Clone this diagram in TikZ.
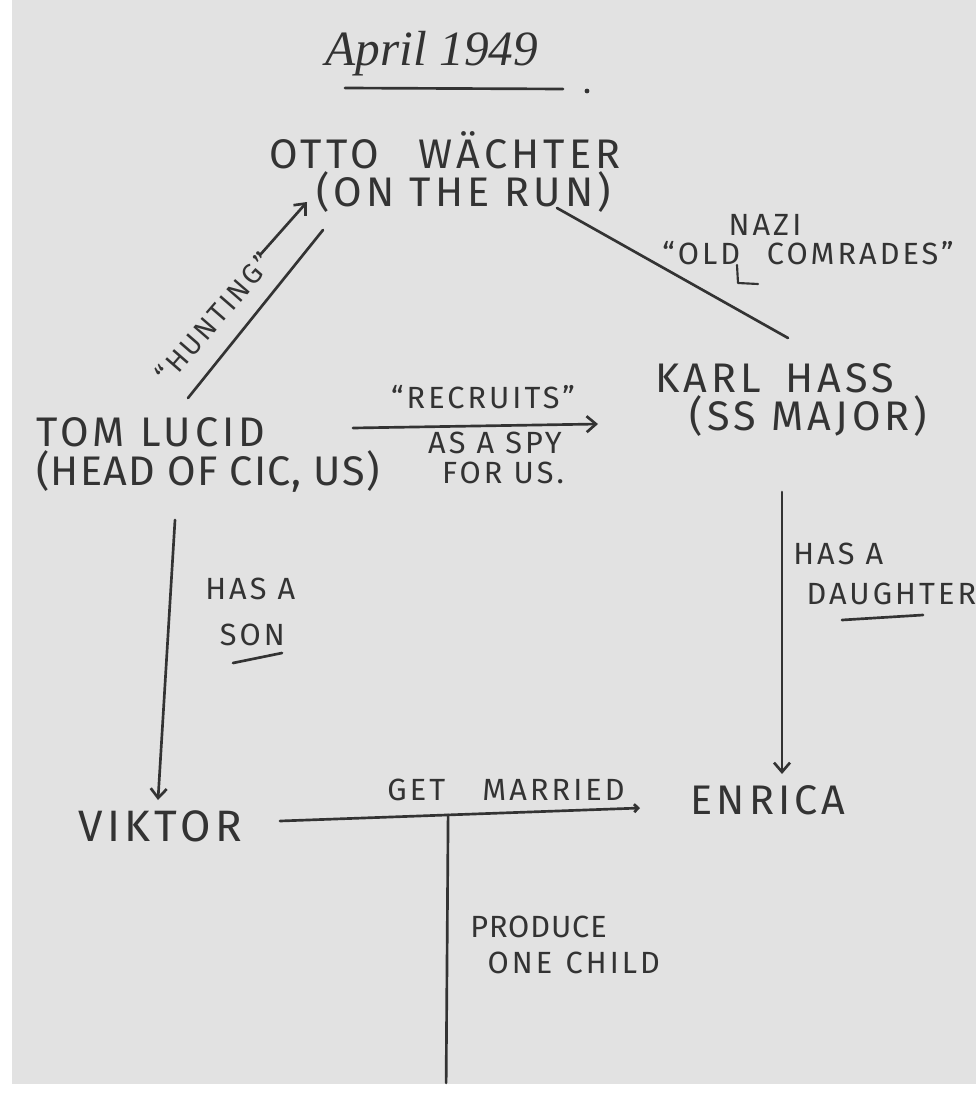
\documentclass[tikz,border=0pt]{standalone}
\usepackage{fontspec}
\setmainfont{Fira Sans}
\newfontfamily\handfont[LetterSpace=10]{Fira Sans}
\newfontfamily\tightfont[LetterSpace=3]{Fira Sans}
\newfontfamily\datefont{Liberation Serif}
\usetikzlibrary{calc,arrows.meta}
\definecolor{paper}{HTML}{E2E2E2}
\definecolor{ink}{HTML}{333333}
\tikzset{
	pen/.style={draw=ink, line width=2pt, line cap=round, line join=round},
	penarrow/.style={pen, -{Straight Barb[length=7pt,width=12pt]}},
	bigtext/.style={text=ink, inner sep=0pt, font=\handfont\fontsize{31}{29}\selectfont},
	smalltext/.style={text=ink, inner sep=0pt, font=\handfont\fontsize{23}{23}\selectfont}
}

\begin{document}
\begin{tikzpicture}[x=0.75pt, y=-0.75pt]
		%%%%% START %%%%%
		\useasboundingbox (0,0) rectangle (976,1095);
		\fill[white] (0,0) rectangle (976,1095);
		\fill[paper] (12,0) rectangle (976,1084);
		
		\node[text=ink, inner sep=0pt, font=\datefont\itshape\fontsize{37}{44}\selectfont] (date) at (432,54) {April 1949};
		\draw[pen] ($(date.center)+(-87,34)$) -- ++(218,1);
		\fill[ink] ($(date.center)+(155,37)$) circle (2.4);
		
		\node[bigtext, align=center] (otto) at (445,172) {OTTO\hspace{30pt}WÄCHTER\\\hspace*{28pt}(ON THE RUN)};
		\node[bigtext, align=left, anchor=west] (tom) at (36,455) {TOM LUCID\\{\tightfont(HEAD OF CIC, US)}};
		\node[bigtext, align=left, anchor=west] (karl) at (655,400) {KARL\hspace{18pt}HASS\\\hspace*{26pt}(SS MAJOR)};
		\node[bigtext, font=\handfont\fontsize{33}{33}\selectfont] (viktor) at (160,826) {VIKTOR};
		\node[bigtext] (enrica) at (768,800) {ENRICA};
		
		% labels
		\node[smalltext, rotate=49, font=\handfont\fontsize{21}{21}\selectfont] (hunt) at (214,318) {“HUNTING”};
		\node[smalltext] (nazi) at (765,225) {NAZI};
		\node[smalltext] (comr) at (808,253) {“OLD\hspace{20pt}COMRADES”};
		\node[smalltext] (recr) at (483,397) {“RECRUITS”};
		\node[smalltext, align=center] (spy) at (495,458) {AS A SPY\\\hspace*{12pt}FOR US.};
		\node[smalltext, align=left, anchor=west] (son) at (205,612) {HAS A\\[11pt]\hspace*{11pt}SON};
		\node[smalltext, align=left, anchor=west] (dau) at (793,574) {HAS A\\[7pt]\hspace*{10pt}DAUGHTER};
		\node[smalltext] (wedlbl) at (506,790) {GET\hspace{28pt}MARRIED};
		\node[smalltext, align=left, anchor=west] (kid) at (470,945) {{\tightfont PRODUCE}\\[4pt]\hspace*{13pt}ONE\hspace{10pt}CHILD};
		
		% connectors
		\draw[pen] ([shift={(152,-57)}]tom.west) -- ([shift={(-122,58)}]otto.center);
		\draw[penarrow] ([shift={(46,-63)}]hunt.center) -- ([shift={(93,-116)}]hunt.center);
		\draw[pen] ([shift={(112,36)}]otto.center) -- ([shift={(133,-62)}]karl.west);
		\draw[penarrow] ([shift={(317,-27)}]tom.west) -- ([shift={(-57,24)}]karl.west);
		\draw[penarrow] ([shift={(127,92)}]karl.west) -- ([shift={(14,-26)}]enrica.center);
		\draw[penarrow] ([shift={(139,65)}]tom.west) -- ([shift={(-2,-26)}]viktor.center);
		\draw[pen, -{Straight Barb[length=3pt,width=6pt]}] ([shift={(120,-5)}]viktor.center) -- coordinate[pos=0.467] (wed) ([shift={(-128,8)}]enrica.center);
		\draw[pen] (wed) -- ++(-2,268) coordinate (child);
		
		% marks
		\draw[pen, line width=1.6pt] ([shift={(-71,12)}]comr.center) -- ++(1,18) -- ++(20,1);
		\draw[pen] ([shift={(28,51)}]son.west) -- ([shift={(77,41)}]son.west);
		\draw[pen] ([shift={(49,46)}]dau.west) -- ([shift={(130,41)}]dau.west);
		
		%%%%% END %%%%%
\end{tikzpicture}
\end{document}
